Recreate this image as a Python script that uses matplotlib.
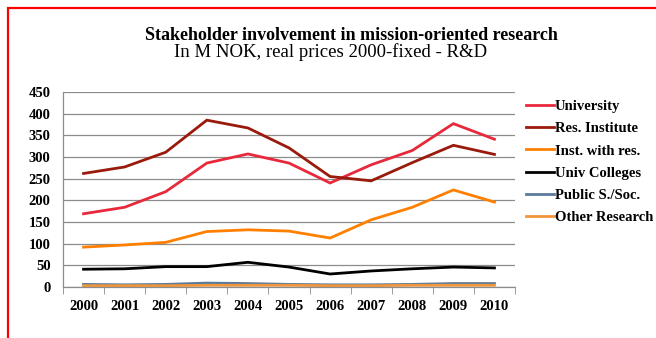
import matplotlib.pyplot as plt
from matplotlib.patches import Rectangle
from matplotlib.ticker import FixedLocator, MultipleLocator

plt.rcParams["font.family"] = ["Liberation Serif", "DejaVu Serif"]

years = ["2000", "2001", "2002", "2003", "2004", "2005",
         "2006", "2007", "2008", "2009", "2010"]

university = [169, 184, 220, 286, 307, 286, 240, 282, 315, 377, 341]
res_institute = [262, 277, 311, 385, 367, 321, 255, 245, 287, 327, 306]
inst_with_res = [92, 97, 103, 128, 132, 129, 113, 155, 184, 224, 196]
univ_colleges = [41, 42, 47, 47, 57, 46, 30, 37, 42, 46, 44]
public_soc = [6, 5, 6, 9, 8, 6, 5, 5, 6, 8, 8]
other_research = [3, 3, 3, 4, 4, 4, 3, 3, 4, 4, 4]

series = [
    ("University", university, "#e8293b"),
    ("Res. Institute", res_institute, "#9a1a0c"),
    ("Inst. with res.", inst_with_res, "#ff8000"),
    ("Univ Colleges", univ_colleges, "#000000"),
    ("Public S./Soc.", public_soc, "#5a7a9c"),
    ("Other Research", other_research, "#f0963c"),
]

fig = plt.figure(figsize=(6.56, 3.38), dpi=100)

# red frame (only top and left edges fall inside the image)
fig.patches.append(Rectangle((8 / 656, -0.1), 1.2, 1 - 8 / 338 + 0.1,
                             transform=fig.transFigure, fill=False,
                             edgecolor="#ff0000", linewidth=1.6))

ax = fig.add_axes([63 / 656, 1 - 287 / 338, 452 / 656, 195 / 338])

x = range(len(years))
for name, vals, color in series:
    ax.plot(x, vals, color=color, linewidth=2.0, label=name,
            solid_joinstyle="miter")

ax.set_xlim(-0.5, len(years) - 0.5)
ax.set_ylim(0, 450)
ax.yaxis.set_major_locator(MultipleLocator(50))
ax.yaxis.grid(True, color="#8c8c8c", linewidth=0.9)
ax.set_axisbelow(True)

ax.set_xticks(list(x))
ax.set_xticklabels(years)
ax.xaxis.set_minor_locator(FixedLocator([i - 0.5 for i in range(len(years) + 1)]))
ax.tick_params(axis="x", which="major", length=0, pad=9)
ax.tick_params(axis="x", which="minor", length=5, color="#8c8c8c", direction="out")
ax.tick_params(axis="y", length=0, pad=9)
for lbl in ax.get_xticklabels() + ax.get_yticklabels():
    lbl.set_fontweight("bold")
    lbl.set_fontsize(10.5)

for side in ("top", "right"):
    ax.spines[side].set_visible(False)
for side in ("left", "bottom"):
    ax.spines[side].set_color("#8c8c8c")
    ax.spines[side].set_linewidth(0.9)

fig.text(351 / 656, 1 - 35 / 338, "Stakeholder involvement in mission-oriented research",
         ha="center", va="center", fontsize=13, fontweight="bold")
fig.text(331 / 656, 1 - 52 / 338, "In M NOK, real prices 2000-fixed - R&D",
         ha="center", va="center", fontsize=13.5)

leg = ax.legend(loc="upper left", bbox_to_anchor=(520 / 656, 1 - 94 / 338),
                bbox_transform=fig.transFigure, frameon=False,
                prop={"weight": "bold", "size": 10.5}, handlelength=1.9,
                handletextpad=0.1, labelspacing=0.62, borderaxespad=0)

fig.savefig("out.png", dpi=100)
